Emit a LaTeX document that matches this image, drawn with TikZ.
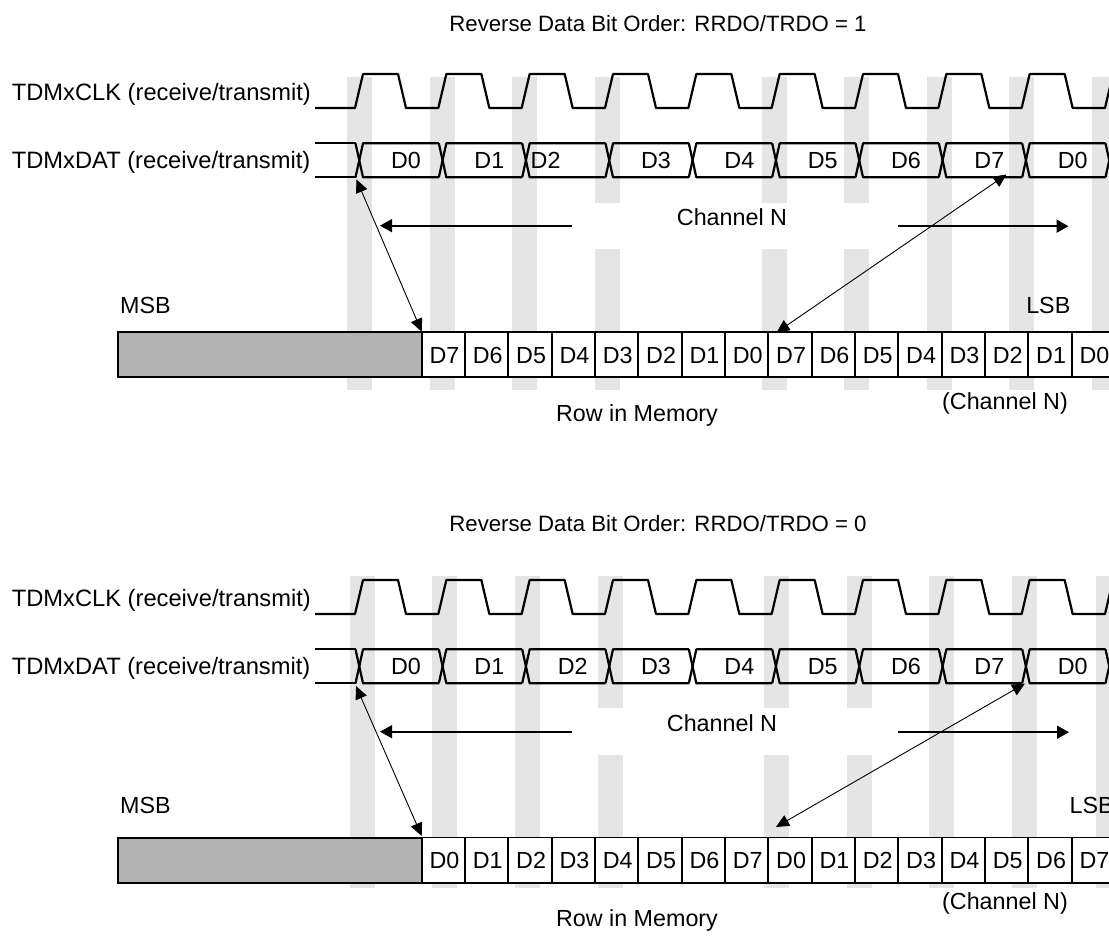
\documentclass[tikz,border=0pt]{standalone}
\usepackage{fontspec}
\setmainfont{Liberation Sans}
\usetikzlibrary{arrows.meta}
\definecolor{stripe}{RGB}{229,229,229}
\definecolor{regfill}{RGB}{179,179,179}
\begin{document}
\begin{tikzpicture}[x=1pt,y=-1pt,
  wave/.style={line width=2.2pt, line join=round},
  txt/.style={font=\fontsize{23.3}{27}\selectfont, inner sep=0pt, anchor=base},
  ttl/.style={font=\fontsize{22.2}{26}\selectfont, inner sep=0pt, anchor=base},
  lbl/.style={font=\fontsize{23.7}{27}\selectfont, inner sep=0pt, anchor=base west},
  dbl/.style={line width=0.9pt, {Triangle[length=13pt,width=12pt]}-{Triangle[length=13pt,width=12pt]}},
  chan/.style={line width=1.6pt, -{Triangle[length=12pt,width=13pt]}},
  regbox/.style={line width=2pt, fill=regfill},
  cellbox/.style={line width=1.8pt, fill=white}]
\useasboundingbox (0,0) rectangle (1109,935);
\clip (0,0) rectangle (1109,935);

% ---------- background stripes ----------
\foreach \x/\g in {346.7/0,430/0,512/0,595/1,761.7/1,844/1,927/0,1009/0,1092/0} {
  \ifnum\g=0
    \fill[stripe] (\x,76.7) rectangle (\x+25,390);
  \else
    \fill[stripe] (\x,76.7) rectangle (\x+25,203.3);
    \fill[stripe] (\x,249.3) rectangle (\x+25,390);
  \fi
}
\foreach \x/\g in {350/0,432/0,515/0,598/1,764/1,847/1,929/0,1012/0,1096/0} {
  \ifnum\g=0
    \fill[stripe] (\x,576) rectangle (\x+25,888.3);
  \else
    \fill[stripe] (\x,576) rectangle (\x+25,708.3);
    \fill[stripe] (\x,755) rectangle (\x+25,888.3);
  \fi
}

% ---------- titles ----------
\node[ttl] (title1) at (658,31.7) {Reverse Data Bit Order: RRDO/TRDO = 1};
\node[ttl] (title2) at (658,531) {Reverse Data Bit Order: RRDO/TRDO = 0};

% ---------- waveforms ----------
\foreach \oy/\s in {0/1,506/2} {
  \node[lbl] (clk\s) at (11.7,100+\oy) {TDMxCLK (receive/transmit)};
  \node[lbl] (dat\s) at (11.7,168.3+\oy) {TDMxDAT (receive/transmit)};
  \draw[wave] (315,108+\oy)
    \foreach \k in {0,...,9} {
      -- ({355+83.333*\k},108+\oy) -- ({363+83.333*\k},74+\oy)
      -- ({398+83.333*\k},74+\oy) -- ({406+83.333*\k},108+\oy)
    } -- (1200,108+\oy);
  \draw[wave] (315,143.3+\oy) -- (355.5,143.3+\oy) (315,177.3+\oy) -- (355.5,177.3+\oy);
  \foreach \k in {0,...,9} {
    \pgfmathsetmacro\a{355.5+83.333*\k}
    \pgfmathsetmacro\b{\a+7.5}
    \pgfmathsetmacro\c{\a+83.333}
    \draw[wave] (\a,143.3+\oy) -- (\b,177.3+\oy) -- (\c,177.3+\oy);
    \draw[wave] (\a,177.3+\oy) -- (\b,143.3+\oy) -- (\c,143.3+\oy);
  }
}

% data labels, top
\foreach \k/\t in {0/D0,1/D1,3/D3,4/D4,5/D5,6/D6,7/D7,8/D0} {
  \node[txt] (td\k) at ({406+83.333*\k},168.5) {\t};
}
\node[txt, anchor=base west] (td2) at (530.5,168.5) {D2};
% data labels, bottom
\foreach \k/\t in {0/D0,1/D1,2/D2,3/D3,4/D4,5/D5,6/D6,7/D7,8/D0} {
  \node[txt] (bd\k) at ({406+83.333*\k},674.5) {\t};
}

% ---------- channel arrows ----------
\node[txt] (ch1) at (732,225.7) {Channel N};
\coordinate (c1l) at (571.7,225.7); \coordinate (c1lt) at (380,225.7);
\coordinate (c1r) at (898.3,226.2); \coordinate (c1rt) at (1068.5,226.2);
\draw[chan] (c1l) -- (c1lt);
\draw[chan] (c1r) -- (c1rt);

\node[txt] (ch2) at (722,731.7) {Channel N};
\coordinate (c2l) at (571.7,731.7); \coordinate (c2lt) at (380,731.7);
\coordinate (c2r) at (898.3,732.2); \coordinate (c2rt) at (1069,732.2);
\draw[chan] (c2l) -- (c2lt);
\draw[chan] (c2r) -- (c2rt);

% ---------- memory rows ----------
\node[txt, anchor=base west] (msb1) at (120,313.3) {MSB};
\node[txt] (lsb1) at (1048.3,313.3) {LSB};
\node[txt] (row1) at (637,421.7) {Row in Memory};
\node[txt] (cn1) at (1005,409.5) {(Channel N)};
\draw[regbox] (118.3,331.7) rectangle (421.7,376.7);
\foreach \i in {0,...,15} {
  \pgfmathtruncatemacro\d{7-mod(\i,8)}
  \draw[cellbox] ({421.7+43.333*\i},331.7) rectangle ({465.03+43.333*\i},376.7);
  \node[txt] (m1c\i) at ({444.4+43.333*\i},363.3) {D\d};
}

\node[txt, anchor=base west] (msb2) at (120,813.3) {MSB};
\node[txt] (lsb2) at (1091.6,813.3) {LSB};
\node[txt] (row2) at (637,926.7) {Row in Memory};
\node[txt] (cn2) at (1005,909.5) {(Channel N)};
\draw[regbox] (118.3,837.5) rectangle (421.7,883);
\foreach \i in {0,...,15} {
  \pgfmathtruncatemacro\d{mod(\i,8)}
  \draw[cellbox] ({421.7+43.333*\i},837.5) rectangle ({465.03+43.333*\i},883);
  \node[txt] (m2c\i) at ({444.4+43.333*\i},868.8) {D\d};
}

% ---------- bit mapping arrows ----------
\coordinate (a1s) at (356.5,179.5); \coordinate (a1e) at (421.7,331.7);
\coordinate (a2s) at (1006.5,174.5); \coordinate (a2e) at (776.5,332.5);
\draw[dbl] (a1s) -- (a1e);
\draw[dbl] (a2s) -- (a2e);

\coordinate (b1s) at (356,686); \coordinate (b1e) at (421.7,836);
\coordinate (b2s) at (1025,683.5); \coordinate (b2e) at (776,827);
\draw[dbl] (b1s) -- (b1e);
\draw[dbl] (b2s) -- (b2e);
\end{tikzpicture}
\end{document}
